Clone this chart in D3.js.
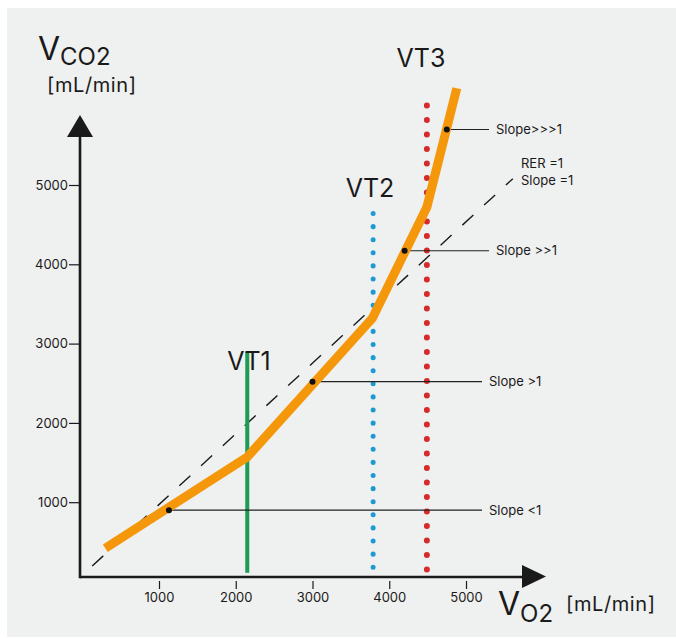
<!DOCTYPE html>
<html>
<head>
<meta charset="utf-8">
<script src="https://cdn.jsdelivr.net/npm/d3@7"></script>
<style>
  html, body { margin: 0; padding: 0; background: #ffffff; }
  svg { display: block; font-family: Inter, "Noto Sans", sans-serif; }
</style>
</head>
<body>
<svg id="chart" width="676" height="638"></svg>
<script>
// Axis ticks (mL/min)
const vo2Ticks = [1000, 2000, 3000, 4000, 5000];
const vco2Ticks = [1000, 2000, 3000, 4000, 5000];

// VCO2 vs VO2 response during an incremental test
const curveVO2  = [300, 2150, 3780, 4490, 4880];
const curveVCO2 = [420, 1570, 3320, 4720, 6220];

// Marked points where the local slope is annotated
const slopeVO2    = [1130, 3000, 4200, 4750];
const slopeVCO2   = [900, 2520, 4170, 5700];
const slopeLabels = ["Slope <1", "Slope >1", "Slope >>1", "Slope>>>1"];

// RER = 1 reference line (two end points)
const rerVO2  = [130, 5610];
const rerVCO2 = [195, 5080];

// Ventilatory thresholds
const vtNames = ["VT1", "VT2", "VT3"];
const vtVO2   = [2150, 3790, 4490];
const vtFrom  = [110, 180, 150];
const vtTo    = [2900, 4690, 6150];

const svg = d3.select("#chart");
const x = d3.scaleLinear().domain([0, 5000]).range([82.25, 466]);
const y = d3.scaleLinear().domain([0, 5000]).range([581.5, 185]);

// panel background
svg.append("rect").attr("x", 7).attr("y", 8).attr("width", 669).attr("height", 629)
  .attr("fill", "#eff0f0");

const ink = "#1a1a1a";

// axes lines with arrow heads
svg.append("line").attr("x1", 80).attr("y1", 577).attr("x2", 526).attr("y2", 577)
  .attr("stroke", ink).attr("stroke-width", 2.6);
svg.append("line").attr("x1", 80).attr("y1", 578.3).attr("x2", 80).attr("y2", 135)
  .attr("stroke", ink).attr("stroke-width", 2.6);
svg.append("path").attr("d", "M522,565L546,576.5L522,588Z").attr("fill", ink);
svg.append("path").attr("d", "M67,137L80,115L93,137Z").attr("fill", ink);

// x axis ticks
const xAxis = d3.axisBottom(x).tickValues(vo2Ticks).tickSize(8).tickPadding(4)
  .tickFormat(d3.format("d"));
const gx = svg.append("g").attr("transform", "translate(0,581)").call(xAxis);
gx.select(".domain").remove();
gx.selectAll("line").attr("stroke", ink).attr("stroke-width", 1.2);
gx.selectAll("text").attr("fill", ink).attr("font-size", 13).attr("font-family", "Inter, sans-serif");

// y axis ticks
const yAxis = d3.axisLeft(y).tickValues(vco2Ticks).tickSize(11).tickPadding(1)
  .tickFormat(d3.format("d"));
const gy = svg.append("g").attr("transform", "translate(80,0)").call(yAxis);
gy.select(".domain").remove();
gy.selectAll("line").attr("stroke", ink).attr("stroke-width", 1.2);
gy.selectAll("text").attr("fill", ink).attr("font-size", 13).attr("font-family", "Inter, sans-serif");

// RER = 1 dashed line
svg.append("line")
  .attr("x1", x(rerVO2[0])).attr("y1", y(rerVCO2[0]))
  .attr("x2", x(rerVO2[1])).attr("y2", y(rerVCO2[1]))
  .attr("stroke", ink).attr("stroke-width", 1.4).attr("stroke-dasharray", "15 14.6");

// threshold lines
const vtStyle = [
  { color: "#1e9c55", width: 4, dash: null },
  { color: "#1e9ad2", width: 5, dash: "0.1 13" },
  { color: "#d62b2b", width: 6, dash: "0.1 14.4" }
];
vtVO2.forEach((v, i) => {
  const l = svg.append("line")
    .attr("x1", x(v)).attr("x2", x(v))
    .attr("y1", y(vtFrom[i])).attr("y2", y(vtTo[i]))
    .attr("stroke", vtStyle[i].color).attr("stroke-width", vtStyle[i].width);
  if (vtStyle[i].dash) l.attr("stroke-dasharray", vtStyle[i].dash).attr("stroke-linecap", "round");
});

// threshold labels
const vtLabelX = [249, 370, 421];
const vtLabelY = [370, 197, 67];
vtNames.forEach((n, i) => {
  svg.append("text").attr("x", vtLabelX[i]).attr("y", vtLabelY[i])
    .attr("text-anchor", "middle").attr("font-size", 25).attr("fill", ink).text(n);
});

// slope leader lines
const leaderEnd = [482, 482, 489, 489];
slopeVO2.forEach((v, i) => {
  svg.append("line").attr("x1", x(v)).attr("y1", y(slopeVCO2[i]))
    .attr("x2", leaderEnd[i]).attr("y2", y(slopeVCO2[i]))
    .attr("stroke", "#222").attr("stroke-width", 1.1);
});

// VCO2 curve
const pts = curveVO2.map((v, i) => [x(v), y(curveVCO2[i])]);
svg.append("path").attr("d", d3.line()(pts))
  .attr("fill", "none").attr("stroke", "#f5970a").attr("stroke-width", 9)
  .attr("stroke-linejoin", "miter").attr("stroke-linecap", "butt");

// slope markers and labels
slopeVO2.forEach((v, i) => {
  svg.append("circle").attr("cx", x(v)).attr("cy", y(slopeVCO2[i])).attr("r", 3)
    .attr("fill", "#111");
  svg.append("text").attr("x", leaderEnd[i] + 7).attr("y", y(slopeVCO2[i]) + 4.5)
    .attr("font-size", 13).attr("fill", ink).text(slopeLabels[i]);
});

// RER annotation
svg.append("text").attr("x", 521).attr("y", 168).attr("font-size", 13).attr("fill", ink).text("RER =1");
svg.append("text").attr("x", 521).attr("y", 185).attr("font-size", 13).attr("fill", ink).text("Slope =1");

// axis titles
const yTitle = svg.append("text").attr("x", 38).attr("y", 60).attr("fill", ink);
yTitle.append("tspan").attr("font-size", 32).text("V");
yTitle.append("tspan").attr("font-size", 24).attr("dy", 5).text("CO2");
svg.append("text").attr("x", 47).attr("y", 92).attr("font-size", 20).attr("fill", ink)
  .attr("letter-spacing", 0.6).text("[mL/min]");

const xTitle = svg.append("text").attr("x", 498).attr("y", 615).attr("fill", ink);
xTitle.append("tspan").attr("font-size", 32).text("V");
xTitle.append("tspan").attr("font-size", 24).attr("dy", 7).text("O2");
svg.append("text").attr("x", 566).attr("y", 611).attr("font-size", 20).attr("fill", ink)
  .attr("letter-spacing", 0.6).text("[mL/min]");
</script>
</body>
</html>
